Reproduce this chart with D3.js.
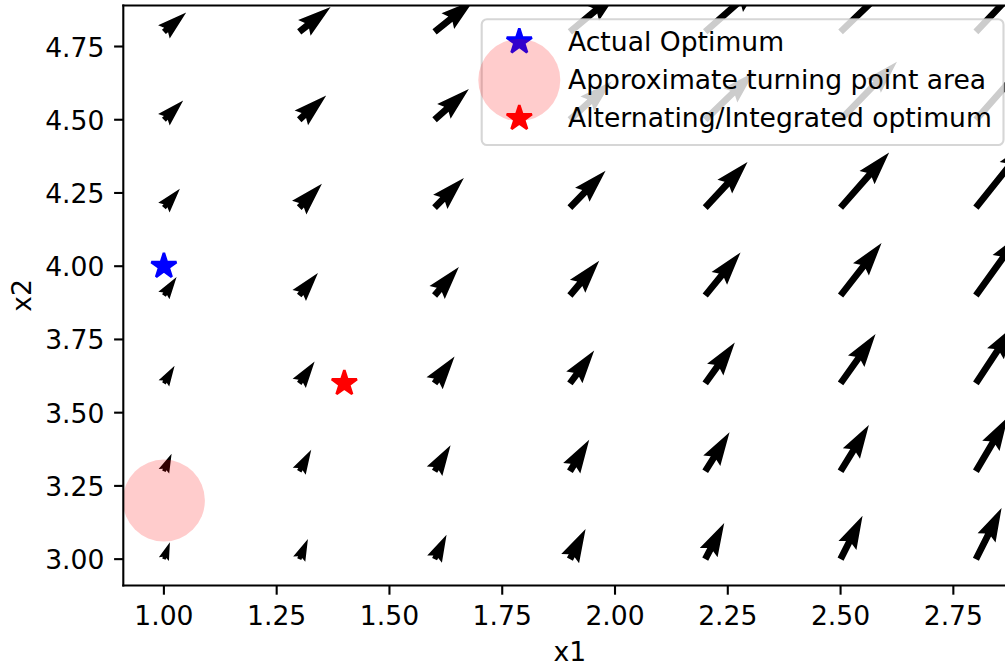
<!DOCTYPE html>
<html>
<head>
<meta charset="utf-8">
<script src="https://cdn.jsdelivr.net/npm/d3@7"></script>
<style>
  html, body { margin: 0; padding: 0; background: #fff; }
  svg { display: block; font-family: "DejaVu Sans", sans-serif; }
</style>
</head>
<body>
<svg id="chart" width="1005" height="666"></svg>
<script>
// ---- data -------------------------------------------------------------
const x1Grid = [1.0, 1.3, 1.6, 1.9, 2.2, 2.5, 2.8];
const x2Grid = [3.0, 3.3, 3.6, 3.9, 4.2, 4.5, 4.8];

// gradient components; one row per x2 value, one column per x1 value
const gradX1 = [
  [0.60, 0.87, 1.20, 1.57, 1.90, 2.20, 2.57],
  [0.77, 1.20, 1.60, 1.93, 2.43, 2.83, 3.20],
  [1.07, 1.54, 2.00, 2.43, 2.96, 3.50, 3.80],
  [1.27, 1.87, 2.43, 2.93, 3.53, 4.10, 4.44],
  [1.60, 2.27, 2.93, 3.57, 4.23, 4.86, 5.25],
  [1.93, 2.70, 3.43, 4.20, 4.91, 5.64, 6.08],
  [2.23, 3.14, 3.93, 4.84, 5.62, 6.42, 6.89]
];
const gradX2 = [
  [1.68, 2.02, 2.45, 3.02, 3.62, 4.35, 5.12],
  [1.76, 2.16, 2.59, 3.16, 3.89, 4.63, 5.43],
  [1.77, 2.20, 2.70, 3.30, 4.10, 4.94, 5.76],
  [1.85, 2.25, 2.85, 3.48, 4.31, 5.25, 6.17],
  [1.89, 2.39, 2.96, 3.69, 4.56, 5.52, 6.56],
  [1.93, 2.43, 3.07, 3.85, 4.77, 5.81, 6.90],
  [1.94, 2.48, 3.18, 4.03, 4.97, 6.17, 7.25]
];

const xTicks = [1.00, 1.25, 1.50, 1.75, 2.00, 2.25, 2.50, 2.75];
const yTicks = [3.00, 3.25, 3.50, 3.75, 4.00, 4.25, 4.50, 4.75];

const actualOptimum = [1.0, 4.0];
const turningPoint = [1.0, 3.2];
const alternatingOptimum = [1.4, 3.6];

const legendLabels = [
  "Actual Optimum",
  "Approximate turning point area",
  "Alternating/Integrated optimum"
];

// ---- layout -----------------------------------------------------------
const plot = { left: 123.3, right: 1016.5, top: 5.5, bottom: 585.5 };
const fontSize = 26.6;
const tickLen = 9.2;
const lineW = 2.1;

const svg = d3.select("#chart");

function padded(arr) {
  const lo = d3.min(arr), hi = d3.max(arr), m = 0.05 * (hi - lo);
  return [lo - m, hi + m];
}
const x = d3.scaleLinear().domain(padded(x1Grid)).range([plot.left, plot.right]);
const y = d3.scaleLinear().domain(padded(x2Grid)).range([plot.bottom, plot.top]);

// vector magnitude -> arrow length in pixels
const arrowLen = d3.scaleLinear().domain([0, 1]).range([0, 10]);

svg.append("defs").append("clipPath").attr("id", "plotClip")
  .append("rect")
  .attr("x", plot.left).attr("y", plot.top)
  .attr("width", plot.right - plot.left).attr("height", plot.bottom - plot.top);

// ---- quiver arrows ----------------------------------------------------
const nArrows = x1Grid.length * x2Grid.length;
const shaftW = 0.06 * (plot.right - plot.left) / Math.min(25, Math.max(8, Math.sqrt(nArrows)));

const headLength = 5, headAxisLength = 4.5, headWidth = 3, minShaft = 1;

function arrowShape(L) {
  // L is the arrow length in shaft-width units
  const minsh = minShaft * headLength;
  let xs, ys;
  if (L < minsh) {
    const s = L / minsh;
    xs = [0, minsh - headAxisLength, minsh - headLength, minsh,
          minsh - headLength, minsh - headAxisLength, 0].map(v => v * s);
    ys = [0.5, 0.5, headWidth / 2, 0, -headWidth / 2, -0.5, -0.5].map(v => v * s);
  } else {
    xs = [0, L - headAxisLength, L - headLength, L, L - headLength, L - headAxisLength, 0];
    ys = [0.5, 0.5, headWidth / 2, 0, -headWidth / 2, -0.5, -0.5];
  }
  return xs.map((v, i) => [v, ys[i]]);
}

const arrows = [];
x2Grid.forEach((v2, j) => {
  x1Grid.forEach((v1, i) => {
    arrows.push({ x1: v1, x2: v2, u: gradX1[j][i], v: gradX2[j][i] });
  });
});

const arrowLayer = svg.append("g").attr("clip-path", "url(#plotClip)");
arrowLayer.selectAll("path.arrow").data(arrows).join("path")
  .attr("class", "arrow")
  .attr("fill", "#000")
  .attr("d", d => {
    const px = arrowLen(Math.hypot(d.u, d.v));
    const th = Math.atan2(-d.v, d.u);
    const c = Math.cos(th), s = Math.sin(th);
    const tx = x(d.x1), ty = y(d.x2);
    const pts = arrowShape(px / shaftW).map(([a, b]) => [
      tx + (a * c - b * s) * shaftW,
      ty + (a * s + b * c) * shaftW
    ]);
    return "M" + pts.map(p => p[0].toFixed(2) + "," + p[1].toFixed(2)).join("L") + "Z";
  });

// ---- markers ----------------------------------------------------------
function starPath(r) {
  const pts = [];
  for (let k = 0; k < 10; k++) {
    const a = -Math.PI / 2 + k * Math.PI / 5;
    const rr = k % 2 === 0 ? r : r * 0.381966;
    pts.push([rr * Math.cos(a), rr * Math.sin(a)]);
  }
  return "M" + pts.map(p => p[0].toFixed(2) + "," + p[1].toFixed(2)).join("L") + "Z";
}
const starR = 13.2;
const circleR = 41;

const markLayer = svg.append("g").attr("clip-path", "url(#plotClip)");
function drawStar(g, cx, cy, color) {
  g.append("path").attr("d", starPath(starR))
    .attr("transform", `translate(${cx},${cy})`)
    .attr("fill", color).attr("stroke", color)
    .attr("stroke-width", 2.6).attr("stroke-linejoin", "bevel");
}
function drawArea(g, cx, cy) {
  g.append("circle").attr("cx", cx).attr("cy", cy).attr("r", circleR)
    .attr("fill", "rgba(255,0,0,0.2)");
}
drawStar(markLayer, x(actualOptimum[0]), y(actualOptimum[1]), "#0000ff");
drawArea(markLayer, x(turningPoint[0]), y(turningPoint[1]));
drawStar(markLayer, x(alternatingOptimum[0]), y(alternatingOptimum[1]), "#ff0000");

// ---- axes -------------------------------------------------------------
const axisG = svg.append("g");
axisG.append("line").attr("x1", plot.left).attr("x2", plot.right)
  .attr("y1", plot.bottom).attr("y2", plot.bottom)
  .attr("stroke", "#000").attr("stroke-width", lineW).attr("stroke-linecap", "square");
axisG.append("line").attr("x1", plot.left).attr("x2", plot.right)
  .attr("y1", plot.top).attr("y2", plot.top)
  .attr("stroke", "#000").attr("stroke-width", lineW).attr("stroke-linecap", "square");
axisG.append("line").attr("x1", plot.left).attr("x2", plot.left)
  .attr("y1", plot.top).attr("y2", plot.bottom)
  .attr("stroke", "#000").attr("stroke-width", lineW).attr("stroke-linecap", "square");
axisG.append("line").attr("x1", plot.right).attr("x2", plot.right)
  .attr("y1", plot.top).attr("y2", plot.bottom)
  .attr("stroke", "#000").attr("stroke-width", lineW).attr("stroke-linecap", "square");

const fmt = d3.format(".2f");
xTicks.forEach(t => {
  const px = x(t);
  axisG.append("line").attr("x1", px).attr("x2", px)
    .attr("y1", plot.bottom).attr("y2", plot.bottom + tickLen)
    .attr("stroke", "#000").attr("stroke-width", lineW);
  axisG.append("text").attr("x", px).attr("y", 625)
    .attr("text-anchor", "middle").attr("font-size", fontSize).attr("fill", "#000")
    .text(fmt(t));
});
yTicks.forEach(t => {
  const py = y(t);
  axisG.append("line").attr("x1", plot.left - tickLen).attr("x2", plot.left)
    .attr("y1", py).attr("y2", py)
    .attr("stroke", "#000").attr("stroke-width", lineW);
  axisG.append("text").attr("x", plot.left - 2 * tickLen - 0.5).attr("y", py + 10)
    .attr("text-anchor", "end").attr("font-size", fontSize).attr("fill", "#000")
    .text(fmt(t));
});

axisG.append("text").attr("x", (plot.left + plot.right) / 2).attr("y", 661)
  .attr("text-anchor", "middle").attr("font-size", fontSize).text("x1");
axisG.append("text")
  .attr("transform", `translate(31,${(plot.top + plot.bottom) / 2}) rotate(-90)`)
  .attr("text-anchor", "middle").attr("font-size", fontSize).text("x2");

// ---- legend -----------------------------------------------------------
const leg = svg.append("g");
leg.append("rect")
  .attr("x", 481.7).attr("y", 19.3).attr("width", 521.8).attr("height", 125.7)
  .attr("rx", 5.3).attr("ry", 5.3)
  .attr("fill", "rgba(255,255,255,0.8)")
  .attr("stroke", "rgba(204,204,204,0.8)").attr("stroke-width", lineW);

const legMarkX = 519.3;
const legRowY = [41.7, 80, 118.3];
drawStar(leg, legMarkX, legRowY[0], "#0000ff");
drawArea(leg, legMarkX, legRowY[1]);
drawStar(leg, legMarkX, legRowY[2], "#ff0000");

legendLabels.forEach((lab, i) => {
  leg.append("text").attr("x", 568).attr("y", legRowY[i] + 8.8)
    .attr("font-size", fontSize).attr("fill", "#000").text(lab);
});
</script>
</body>
</html>
